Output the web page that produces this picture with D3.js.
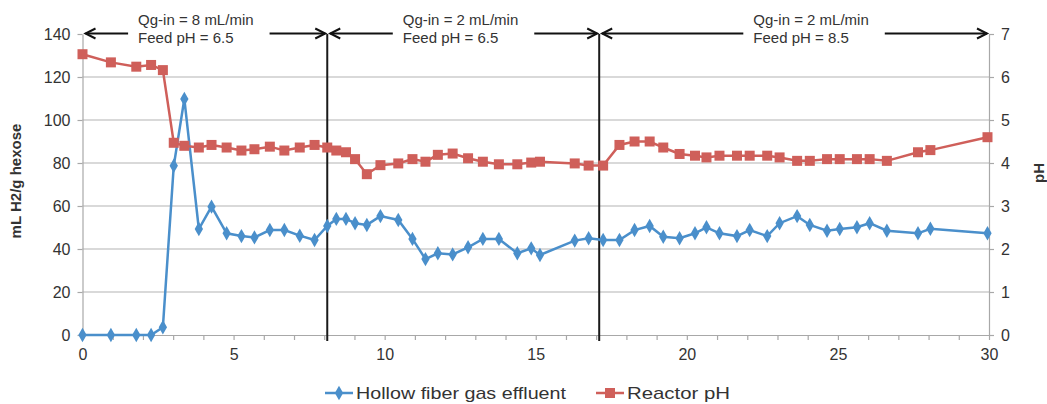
<!DOCTYPE html>
<html>
<head>
<meta charset="utf-8">
<script src="https://cdn.jsdelivr.net/npm/d3@7"></script>
<style>
  body { margin: 0; background: #fff; }
  text { font-family: "Liberation Sans", Arial, sans-serif; fill: #333; }
</style>
</head>
<body>
<svg id="chart"></svg>
<script>
// data
const days = [0, 0.94, 1.78, 2.27, 2.66, 3.02, 3.37, 3.85, 4.27, 4.77, 5.26, 5.69, 6.2, 6.68, 7.19, 7.68,
  8.1, 8.4, 8.72, 9.02, 9.41, 9.86, 10.45, 10.92, 11.35, 11.76, 12.25, 12.76, 13.25, 13.78, 14.39, 14.85,
  15.14, 16.29, 16.75, 17.23, 17.77, 18.27, 18.77, 19.22, 19.76, 20.27, 20.65, 21.08, 21.66, 22.08, 22.66,
  23.07, 23.65, 24.07, 24.64, 25.06, 25.63, 26.05, 26.62, 27.65, 28.06, 29.95];
const h2Yield = [0, 0, 0, 0, 3.6, 78.7, 109.8, 49.3, 59.7, 47.3, 46, 45.4, 48.8, 48.8, 46.2, 44.2,
  50.7, 54, 54, 52, 51.2, 55.3, 53.5, 44.7, 35.3, 38, 37.5, 40.8, 44.7, 44.7, 38, 40.3,
  37.2, 43.9, 45, 44.2, 44.2, 48.8, 50.7, 45.7, 45, 47.3, 50.1, 47.3, 46, 48.8, 46,
  52, 55.3, 51.2, 48.5, 49.3, 50.1, 52, 48.5, 47.3, 49.4, 47.3];
const reactorPH = [6.53, 6.34, 6.24, 6.28, 6.16, 4.47, 4.4, 4.36, 4.42, 4.36, 4.29, 4.32, 4.38, 4.29, 4.36, 4.42,
  4.36, 4.29, 4.25, 4.09, 3.74, 3.95, 3.99, 4.09, 4.03, 4.19, 4.22, 4.11, 4.03, 3.97, 3.97, 4.01,
  4.03, 3.99, 3.94, 3.94, 4.42, 4.5, 4.5, 4.36, 4.21, 4.17, 4.13, 4.17, 4.17, 4.17, 4.17,
  4.13, 4.05, 4.05, 4.09, 4.09, 4.09, 4.09, 4.05, 4.25, 4.3, 4.6];

// operating phases (start, end, where the label starts, label lines)
const phaseStart = [0, 8.1, 17.1];
const phaseEnd = [8.1, 17.1, 30];
const phaseLabelAt = [1.84, 10.6, 22.2];
const phaseLabels = [
  ["Qg-in = 8 mL/min", "Feed pH = 6.5"],
  ["Qg-in = 2 mL/min", "Feed pH = 6.5"],
  ["Qg-in = 2 mL/min", "Feed pH = 8.5"]
];

const leftTicks = [0, 20, 40, 60, 80, 100, 120, 140];
const rightTicks = [0, 1, 2, 3, 4, 5, 6, 7];
const xLabelTicks = [0, 5, 10, 15, 20, 25, 30];
const seriesNames = ["Hollow fiber gas effluent", "Reactor pH"];

const width = 1047, height = 404;
const margin = { left: 82.5, right: 58, top: 34, bottom: 69 };
const blue = "#4a8fcb", red = "#cf5f5a", grid = "#b4b4b4";

const svg = d3.select("svg#chart").attr("width", width).attr("height", height);

const x = d3.scaleLinear().domain([0, 30]).range([margin.left, width - margin.right]);
const yL = d3.scaleLinear().domain([0, 140]).range([height - margin.bottom, margin.top]);
const yR = d3.scaleLinear().domain([0, 7]).range([height - margin.bottom, margin.top]);

// gridlines
svg.append("g").selectAll("line")
  .data(leftTicks.filter(d => d > 0 && d < 140))
  .enter().append("line")
  .attr("x1", x(0)).attr("x2", x(30))
  .attr("y1", d => yL(d)).attr("y2", d => yL(d))
  .attr("stroke", grid).attr("stroke-width", 1.2);

// axes
const xAxis = svg.append("g")
  .attr("transform", "translate(0," + yL(0) + ")")
  .call(d3.axisBottom(x).tickValues(d3.range(0, 31)).tickSize(5).tickSizeOuter(0)
    .tickFormat(d => xLabelTicks.includes(d) ? d : ""));
const leftAxis = svg.append("g")
  .attr("transform", "translate(" + x(0) + ",0)")
  .call(d3.axisLeft(yL).tickValues(leftTicks).tickSize(5).tickSizeOuter(0).tickPadding(7));
const rightAxis = svg.append("g")
  .attr("transform", "translate(" + x(30) + ",0)")
  .call(d3.axisRight(yR).tickValues(rightTicks).tickFormat(d3.format("d"))
    .tickSize(5).tickSizeOuter(0).tickPadding(7));

[xAxis, leftAxis, rightAxis].forEach(a => {
  a.selectAll("path, line").attr("stroke", "#a8a8a8").attr("stroke-width", 1.2);
  a.selectAll("text").style("font-size", "16px").style("font-family", "Liberation Sans, Arial, sans-serif").attr("fill", "#333");
});
xAxis.selectAll("text").attr("dy", "1.05em");

// axis titles
svg.append("text")
  .attr("transform", "translate(21,181) rotate(-90)")
  .attr("text-anchor", "middle")
  .style("font-size", "15px").style("font-weight", "bold").attr("fill", "#222")
  .text("mL H2/g hexose");
svg.append("text")
  .attr("transform", "translate(1044,173) rotate(-90)")
  .attr("text-anchor", "middle")
  .style("font-size", "15px").style("font-weight", "bold").attr("fill", "#222")
  .text("pH");

// phase divider lines
svg.append("g").selectAll("line")
  .data(phaseStart.slice(1))
  .enter().append("line")
  .attr("x1", d => x(d)).attr("x2", d => x(d))
  .attr("y1", yL(140)).attr("y2", yL(0) + 6)
  .attr("stroke", "#1a1a1a").attr("stroke-width", 2);

// series
const h2Data = days.map((d, i) => [d, h2Yield[i]]);
const phData = days.map((d, i) => [d, reactorPH[i]]);

svg.append("path").datum(h2Data)
  .attr("fill", "none").attr("stroke", blue).attr("stroke-width", 2.5)
  .attr("d", d3.line().x(d => x(d[0])).y(d => yL(d[1])));
svg.append("path").datum(phData)
  .attr("fill", "none").attr("stroke", red).attr("stroke-width", 2.5)
  .attr("d", d3.line().x(d => x(d[0])).y(d => yR(d[1])));

const diamond = d3.symbol().type(d3.symbolDiamond).size(60);
svg.append("g").selectAll("path")
  .data(h2Data)
  .enter().append("path")
  .attr("d", diamond)
  .attr("transform", d => "translate(" + x(d[0]) + "," + yL(d[1]) + ")")
  .attr("fill", blue);

svg.append("g").selectAll("rect")
  .data(phData)
  .enter().append("rect")
  .attr("x", d => x(d[0]) - 5).attr("y", d => yR(d[1]) - 5)
  .attr("width", 10).attr("height", 10)
  .attr("fill", red);

// phase annotations with double arrows
const arrowY = yL(140) - 0.5;
const ann = svg.append("g");
phaseStart.forEach((s, i) => {
  const tx = x(phaseLabelAt[i]);
  const t1 = ann.append("text").attr("x", tx).attr("y", 25).style("font-size", "15px").text(phaseLabels[i][0]);
  ann.append("text").attr("x", tx).attr("y", 43).style("font-size", "15px").text(phaseLabels[i][1]);
  const tw = t1.node().getComputedTextLength();
  const left = x(s) + 3;
  const right = x(phaseEnd[i]) - 2;
  const segs = [[left, tx - 10], [tx + tw + 16, right]];
  segs.forEach(sg => {
    ann.append("line")
      .attr("x1", sg[0]).attr("x2", sg[1]).attr("y1", arrowY).attr("y2", arrowY)
      .attr("stroke", "#111").attr("stroke-width", 2);
  });
  // heads
  ann.append("path")
    .attr("d", "M" + (left + 10) + "," + (arrowY - 5) + "L" + left + "," + arrowY + "L" + (left + 10) + "," + (arrowY + 5))
    .attr("fill", "none").attr("stroke", "#111").attr("stroke-width", 2);
  ann.append("path")
    .attr("d", "M" + (right - 10) + "," + (arrowY - 5) + "L" + right + "," + arrowY + "L" + (right - 10) + "," + (arrowY + 5))
    .attr("fill", "none").attr("stroke", "#111").attr("stroke-width", 2);
});

// legend
const legY = 393;
const leg = svg.append("g");
const legX = [325, 596];
const legTextW = [210, 103];
const legColor = [blue, red];
seriesNames.forEach((name, i) => {
  leg.append("line")
    .attr("x1", legX[i]).attr("x2", legX[i] + 28).attr("y1", legY).attr("y2", legY)
    .attr("stroke", legColor[i]).attr("stroke-width", 2.5);
  if (i === 0) {
    leg.append("path").attr("d", diamond).attr("transform", "translate(" + (legX[i] + 14) + "," + legY + ")").attr("fill", blue);
  } else {
    leg.append("rect").attr("x", legX[i] + 9).attr("y", legY - 5).attr("width", 10).attr("height", 10).attr("fill", red);
  }
  leg.append("text")
    .attr("x", legX[i] + 31).attr("y", legY + 6)
    .attr("textLength", legTextW[i]).attr("lengthAdjust", "spacingAndGlyphs")
    .style("font-size", "17px").attr("fill", "#222")
    .text(name);
});
</script>
</body>
</html>
